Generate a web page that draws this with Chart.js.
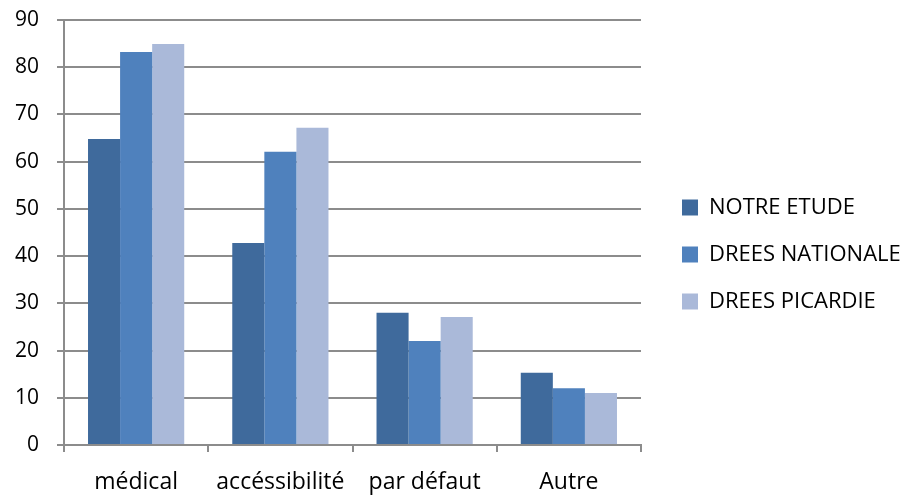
<!DOCTYPE html>
<html lang="fr">
<head>
  <meta charset="UTF-8">
  <title>Motifs</title>
  <script src="https://cdn.jsdelivr.net/npm/chart.js"></script>
  <style>
    body {
      margin: 0;
      padding: 0;
      background: #ffffff;
    }
    .boite {
      width: 909px;
      height: 495px;
    }
  </style>
</head>
<body>
  <div class="boite">
    <canvas id="graphe"></canvas>
  </div>

  <script>
    // donnees
    const categories = ['médical', 'accéssibilité', 'par défaut', 'Autre'];
    const notreEtude = [64.8, 42.8, 28, 15.3];
    const dreesNationale = [83.2, 62.1, 22, 12];
    const dreesPicardie = [84.9, 67.2, 27.1, 11];
    const ticksY = [0, 10, 20, 30, 40, 50, 60, 70, 80, 90];

    const police = "'Open Sans', sans-serif";
    const gris = '#8c8c8c';

    // largeur fixe pour la legende (sinon le texte deborde) + decalage
    const placeLegende = {
      id: 'placeLegende',
      beforeLayout(chart) {
        const lg = chart.legend;
        if (lg && !lg._fixe) {
          const fitOrig = lg.fit;
          lg.fit = function () {
            fitOrig.call(this);
            this.width = 268;
          };
          lg._fixe = true;
        }
      },
      afterLayout(chart) {
        const lg = chart.legend;
        if (!lg) return;
        lg.left = chart.chartArea.right + 16;
        lg.top += 7;
        lg.bottom += 7;
      }
    };

    function dessiner() {
      const ctx = document.getElementById('graphe').getContext('2d');

      new Chart(ctx, {
        type: 'bar',
        data: {
          labels: categories,
          datasets: [
            { label: 'NOTRE ETUDE', data: notreEtude, backgroundColor: '#3f6a9c' },
            { label: 'DREES NATIONALE', data: dreesNationale, backgroundColor: '#4f81bd' },
            { label: 'DREES PICARDIE', data: dreesPicardie, backgroundColor: '#aab9d9' }
          ]
        },
        plugins: [placeLegende],
        options: {
          responsive: true,
          maintainAspectRatio: false,
          animation: false,
          layout: {
            padding: { top: 0, left: 0, right: 0, bottom: 0 }
          },
          datasets: {
            bar: { categoryPercentage: 0.667, barPercentage: 1 }
          },
          plugins: {
            tooltip: { enabled: false },
            legend: {
              position: 'right',
              labels: {
                color: '#000',
                boxWidth: 16,
                boxHeight: 16,
                padding: 25,
                font: { family: police, size: 22 }
              }
            }
          },
          scales: {
            x: {
              afterFit: s => { s.height = 50; },
              grid: {
                drawOnChartArea: false,
                drawTicks: true,
                tickLength: 7,
                color: gris,
                lineWidth: 2
              },
              border: { color: gris, width: 2 },
              ticks: {
                color: '#000',
                padding: 17,
                font: { family: police, size: 23 }
              }
            },
            y: {
              min: 0,
              max: 90,
              afterBuildTicks: axe => { axe.ticks = ticksY.map(v => ({ value: v })); },
              afterFit: s => {
                s.width = 64;
                s.paddingTop = 20;
                s.paddingBottom = 0;
              },
              grid: {
                color: gris,
                lineWidth: 2,
                tickLength: 7
              },
              border: { color: gris, width: 2 },
              ticks: {
                color: '#000',
                padding: 18,
                font: { family: police, size: 21 }
              }
            }
          }
        }
      });
    }

    // attendre la police avant de mesurer les textes
    Promise.all([
      document.fonts.load("21px 'Open Sans'"),
      document.fonts.load("22px 'Open Sans'"),
      document.fonts.load("23px 'Open Sans'")
    ]).then(dessiner, dessiner);
  </script>
</body>
</html>
